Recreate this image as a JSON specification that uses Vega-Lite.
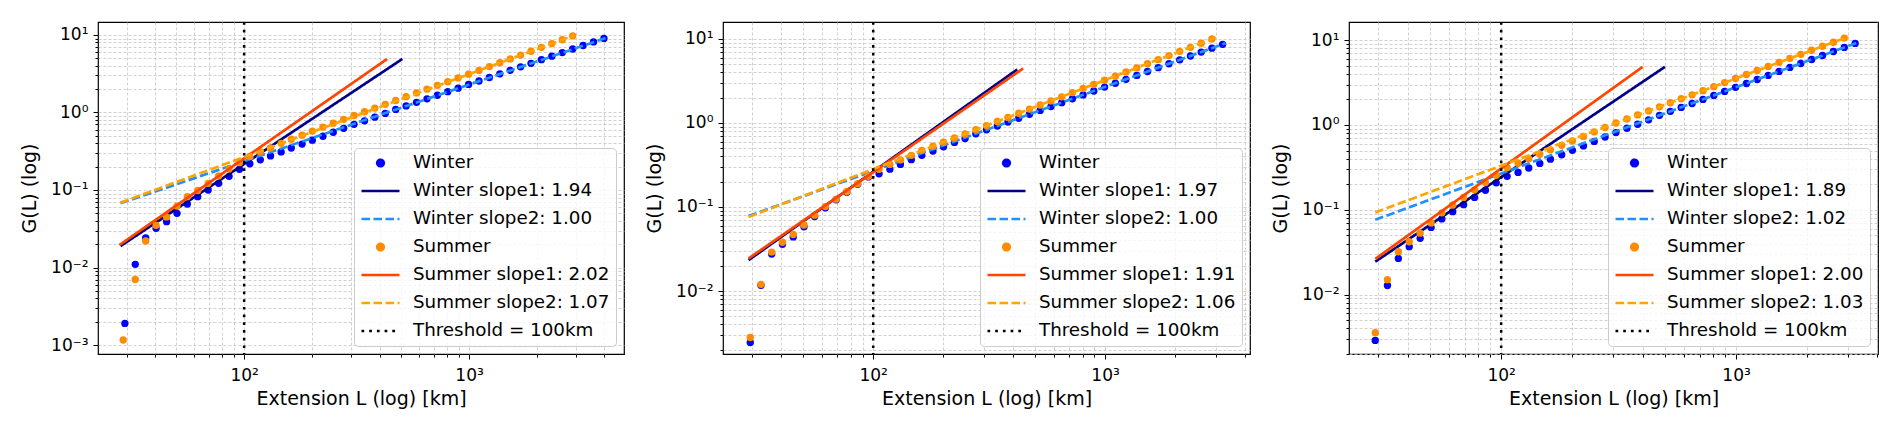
{
"$schema": "https://vega.github.io/schema/vega-lite/v6.json",
"padding": {"left": 19, "top": 20, "right": 0, "bottom": 0},
"spacing": 19,
"resolve": {"scale": {"color": "independent", "strokeDash": "independent"}, "legend": {"color": "independent", "strokeDash": "independent"}},
"config": {
  "view": {"stroke": "black", "strokeWidth": 1.2},
  "font": "DejaVu Sans",
  "axis": {"grid": true, "gridColor": "#c4c4c4", "gridDash": [3, 2], "gridWidth": 0.8, "domain": false, "tickColor": "black", "tickWidth": 1, "labelFont": "DejaVu Sans", "labelFontSize": 17, "labelColor": "black", "titleFont": "DejaVu Sans", "titleFontSize": 19, "titleFontWeight": "normal", "titleColor": "black", "labelOverlap": false, "labelFlush": false},
  "axisX": {"labelPadding": 8, "titlePadding": 6},
  "axisY": {"labelPadding": 5, "titlePadding": 11, "minExtent": 48, "maxExtent": 48},
  "legend": {"orient": "bottom-right", "offset": 8, "padding": 6, "fillColor": "rgba(255,255,255,0.8)", "strokeColor": "#cccccc", "cornerRadius": 4, "labelFont": "DejaVu Sans", "labelFontSize": 18.3, "labelColor": "black", "labelLimit": 400, "symbolSize": 1444, "clipHeight": 18, "rowPadding": 9, "labelOffset": 12, "symbolStrokeWidth": 2.7}
},
"datasets": {
"pts": [
{"p":1,"s":"Winter","L":29.5,"G":0.0019},{"p":1,"s":"Winter","L":32.8,"G":0.011},{"p":1,"s":"Winter","L":36.5,"G":0.024},{"p":1,"s":"Winter","L":40.6,"G":0.032},{"p":1,"s":"Winter","L":45.2,"G":0.039},{"p":1,"s":"Winter","L":50.3,"G":0.05},{"p":1,"s":"Winter","L":55.9,"G":0.066},{"p":1,"s":"Winter","L":62.2,"G":0.082},{"p":1,"s":"Winter","L":69.2,"G":0.1},{"p":1,"s":"Winter","L":77,"G":0.122},{"p":1,"s":"Winter","L":85.7,"G":0.15},{"p":1,"s":"Winter","L":95.3,"G":0.185},{"p":1,"s":"Winter","L":106,"G":0.218},{"p":1,"s":"Winter","L":118,"G":0.245},{"p":1,"s":"Winter","L":131,"G":0.275},{"p":1,"s":"Winter","L":146,"G":0.31},{"p":1,"s":"Winter","L":162,"G":0.348},{"p":1,"s":"Winter","L":181,"G":0.391},{"p":1,"s":"Winter","L":201,"G":0.439},{"p":1,"s":"Winter","L":224,"G":0.494},{"p":1,"s":"Winter","L":249,"G":0.556},{"p":1,"s":"Winter","L":277,"G":0.624},{"p":1,"s":"Winter","L":308,"G":0.703},{"p":1,"s":"Winter","L":343,"G":0.78},{"p":1,"s":"Winter","L":381,"G":0.871},{"p":1,"s":"Winter","L":424,"G":0.973},{"p":1,"s":"Winter","L":472,"G":1.096},{"p":1,"s":"Winter","L":525,"G":1.216},{"p":1,"s":"Winter","L":584,"G":1.352},{"p":1,"s":"Winter","L":650,"G":1.5},{"p":1,"s":"Winter","L":723,"G":1.67},{"p":1,"s":"Winter","L":804,"G":1.855},{"p":1,"s":"Winter","L":894,"G":2.06},{"p":1,"s":"Winter","L":995,"G":2.3},{"p":1,"s":"Winter","L":1107,"G":2.55},{"p":1,"s":"Winter","L":1231,"G":2.83},{"p":1,"s":"Winter","L":1370,"G":3.15},{"p":1,"s":"Winter","L":1524,"G":3.5},{"p":1,"s":"Winter","L":1695,"G":3.88},{"p":1,"s":"Winter","L":1886,"G":4.31},{"p":1,"s":"Winter","L":2098,"G":4.8},{"p":1,"s":"Winter","L":2334,"G":5.33},{"p":1,"s":"Winter","L":2597,"G":5.92},{"p":1,"s":"Winter","L":2889,"G":6.59},{"p":1,"s":"Winter","L":3214,"G":7.31},{"p":1,"s":"Winter","L":3576,"G":8.13},{"p":1,"s":"Winter","L":3978,"G":9.02},
{"p":1,"s":"Summer","L":29.0,"G":0.00116},{"p":1,"s":"Summer","L":32.8,"G":0.007},{"p":1,"s":"Summer","L":36.5,"G":0.022},{"p":1,"s":"Summer","L":40.6,"G":0.035},{"p":1,"s":"Summer","L":45.2,"G":0.045},{"p":1,"s":"Summer","L":50.3,"G":0.062},{"p":1,"s":"Summer","L":55.9,"G":0.082},{"p":1,"s":"Summer","L":62.2,"G":0.0985},{"p":1,"s":"Summer","L":69.2,"G":0.122},{"p":1,"s":"Summer","L":77,"G":0.152},{"p":1,"s":"Summer","L":85.7,"G":0.187},{"p":1,"s":"Summer","L":95.3,"G":0.225},{"p":1,"s":"Summer","L":106,"G":0.271},{"p":1,"s":"Summer","L":118,"G":0.309},{"p":1,"s":"Summer","L":131,"G":0.348},{"p":1,"s":"Summer","L":146,"G":0.4},{"p":1,"s":"Summer","L":162,"G":0.452},{"p":1,"s":"Summer","L":181,"G":0.51},{"p":1,"s":"Summer","L":201,"G":0.575},{"p":1,"s":"Summer","L":224,"G":0.648},{"p":1,"s":"Summer","L":249,"G":0.728},{"p":1,"s":"Summer","L":277,"G":0.815},{"p":1,"s":"Summer","L":308,"G":0.915},{"p":1,"s":"Summer","L":343,"G":1.022},{"p":1,"s":"Summer","L":381,"G":1.14},{"p":1,"s":"Summer","L":424,"G":1.275},{"p":1,"s":"Summer","L":472,"G":1.428},{"p":1,"s":"Summer","L":525,"G":1.6},{"p":1,"s":"Summer","L":584,"G":1.79},{"p":1,"s":"Summer","L":650,"G":2.0},{"p":1,"s":"Summer","L":723,"G":2.24},{"p":1,"s":"Summer","L":804,"G":2.5},{"p":1,"s":"Summer","L":894,"G":2.79},{"p":1,"s":"Summer","L":995,"G":3.12},{"p":1,"s":"Summer","L":1107,"G":3.49},{"p":1,"s":"Summer","L":1231,"G":3.91},{"p":1,"s":"Summer","L":1370,"G":4.39},{"p":1,"s":"Summer","L":1524,"G":4.91},{"p":1,"s":"Summer","L":1695,"G":5.5},{"p":1,"s":"Summer","L":1886,"G":6.17},{"p":1,"s":"Summer","L":2098,"G":6.92},{"p":1,"s":"Summer","L":2334,"G":7.74},{"p":1,"s":"Summer","L":2597,"G":8.67},{"p":1,"s":"Summer","L":2889,"G":9.75},
{"p":2,"s":"Winter","L":29.5,"G":0.00244},{"p":2,"s":"Winter","L":32.8,"G":0.0117},{"p":2,"s":"Winter","L":36.5,"G":0.0275},{"p":2,"s":"Winter","L":40.6,"G":0.036},{"p":2,"s":"Winter","L":45.2,"G":0.044},{"p":2,"s":"Winter","L":50.3,"G":0.058},{"p":2,"s":"Winter","L":55.9,"G":0.077},{"p":2,"s":"Winter","L":62.2,"G":0.098},{"p":2,"s":"Winter","L":69.2,"G":0.122},{"p":2,"s":"Winter","L":77,"G":0.15},{"p":2,"s":"Winter","L":85.7,"G":0.186},{"p":2,"s":"Winter","L":95.3,"G":0.228},{"p":2,"s":"Winter","L":106,"G":0.248},{"p":2,"s":"Winter","L":118,"G":0.282},{"p":2,"s":"Winter","L":131,"G":0.321},{"p":2,"s":"Winter","L":146,"G":0.366},{"p":2,"s":"Winter","L":162,"G":0.412},{"p":2,"s":"Winter","L":181,"G":0.463},{"p":2,"s":"Winter","L":201,"G":0.521},{"p":2,"s":"Winter","L":224,"G":0.587},{"p":2,"s":"Winter","L":249,"G":0.653},{"p":2,"s":"Winter","L":277,"G":0.743},{"p":2,"s":"Winter","L":308,"G":0.828},{"p":2,"s":"Winter","L":343,"G":0.92},{"p":2,"s":"Winter","L":381,"G":1.023},{"p":2,"s":"Winter","L":424,"G":1.138},{"p":2,"s":"Winter","L":472,"G":1.268},{"p":2,"s":"Winter","L":525,"G":1.409},{"p":2,"s":"Winter","L":584,"G":1.567},{"p":2,"s":"Winter","L":650,"G":1.742},{"p":2,"s":"Winter","L":723,"G":1.941},{"p":2,"s":"Winter","L":804,"G":2.158},{"p":2,"s":"Winter","L":894,"G":2.399},{"p":2,"s":"Winter","L":995,"G":2.673},{"p":2,"s":"Winter","L":1107,"G":2.972},{"p":2,"s":"Winter","L":1231,"G":3.304},{"p":2,"s":"Winter","L":1370,"G":3.681},{"p":2,"s":"Winter","L":1524,"G":4.093},{"p":2,"s":"Winter","L":1695,"G":4.55},{"p":2,"s":"Winter","L":1886,"G":5.058},{"p":2,"s":"Winter","L":2098,"G":5.636},{"p":2,"s":"Winter","L":2334,"G":6.266},{"p":2,"s":"Winter","L":2597,"G":6.966},{"p":2,"s":"Winter","L":2889,"G":7.762},{"p":2,"s":"Winter","L":3214,"G":8.63},
{"p":2,"s":"Summer","L":29.5,"G":0.0028},{"p":2,"s":"Summer","L":32.8,"G":0.012},{"p":2,"s":"Summer","L":36.5,"G":0.029},{"p":2,"s":"Summer","L":40.6,"G":0.038},{"p":2,"s":"Summer","L":45.2,"G":0.047},{"p":2,"s":"Summer","L":50.3,"G":0.061},{"p":2,"s":"Summer","L":55.9,"G":0.08},{"p":2,"s":"Summer","L":62.2,"G":0.101},{"p":2,"s":"Summer","L":69.2,"G":0.124},{"p":2,"s":"Summer","L":77,"G":0.153},{"p":2,"s":"Summer","L":85.7,"G":0.189},{"p":2,"s":"Summer","L":95.3,"G":0.232},{"p":2,"s":"Summer","L":106,"G":0.281},{"p":2,"s":"Summer","L":118,"G":0.321},{"p":2,"s":"Summer","L":131,"G":0.363},{"p":2,"s":"Summer","L":146,"G":0.412},{"p":2,"s":"Summer","L":162,"G":0.472},{"p":2,"s":"Summer","L":181,"G":0.528},{"p":2,"s":"Summer","L":201,"G":0.59},{"p":2,"s":"Summer","L":224,"G":0.662},{"p":2,"s":"Summer","L":249,"G":0.741},{"p":2,"s":"Summer","L":277,"G":0.83},{"p":2,"s":"Summer","L":308,"G":0.931},{"p":2,"s":"Summer","L":343,"G":1.04},{"p":2,"s":"Summer","L":381,"G":1.164},{"p":2,"s":"Summer","L":424,"G":1.303},{"p":2,"s":"Summer","L":472,"G":1.462},{"p":2,"s":"Summer","L":525,"G":1.634},{"p":2,"s":"Summer","L":584,"G":1.828},{"p":2,"s":"Summer","L":650,"G":2.045},{"p":2,"s":"Summer","L":723,"G":2.296},{"p":2,"s":"Summer","L":804,"G":2.57},{"p":2,"s":"Summer","L":894,"G":2.871},{"p":2,"s":"Summer","L":995,"G":3.221},{"p":2,"s":"Summer","L":1107,"G":3.606},{"p":2,"s":"Summer","L":1231,"G":4.036},{"p":2,"s":"Summer","L":1370,"G":4.519},{"p":2,"s":"Summer","L":1524,"G":5.058},{"p":2,"s":"Summer","L":1695,"G":5.662},{"p":2,"s":"Summer","L":1886,"G":6.339},{"p":2,"s":"Summer","L":2098,"G":7.112},{"p":2,"s":"Summer","L":2334,"G":7.943},{"p":2,"s":"Summer","L":2597,"G":8.892},{"p":2,"s":"Summer","L":2889,"G":9.977},
{"p":3,"s":"Winter","L":29.1,"G":0.00288},{"p":3,"s":"Winter","L":32.8,"G":0.0128},{"p":3,"s":"Winter","L":36.5,"G":0.0267},{"p":3,"s":"Winter","L":40.6,"G":0.0367},{"p":3,"s":"Winter","L":45.2,"G":0.046},{"p":3,"s":"Winter","L":50.3,"G":0.062},{"p":3,"s":"Winter","L":55.9,"G":0.078},{"p":3,"s":"Winter","L":62.2,"G":0.095},{"p":3,"s":"Winter","L":69.2,"G":0.115},{"p":3,"s":"Winter","L":77,"G":0.14},{"p":3,"s":"Winter","L":85.7,"G":0.17},{"p":3,"s":"Winter","L":95.3,"G":0.208},{"p":3,"s":"Winter","L":106,"G":0.248},{"p":3,"s":"Winter","L":118,"G":0.276},{"p":3,"s":"Winter","L":131,"G":0.311},{"p":3,"s":"Winter","L":146,"G":0.352},{"p":3,"s":"Winter","L":162,"G":0.395},{"p":3,"s":"Winter","L":181,"G":0.446},{"p":3,"s":"Winter","L":201,"G":0.502},{"p":3,"s":"Winter","L":224,"G":0.567},{"p":3,"s":"Winter","L":249,"G":0.64},{"p":3,"s":"Winter","L":277,"G":0.721},{"p":3,"s":"Winter","L":308,"G":0.813},{"p":3,"s":"Winter","L":343,"G":0.916},{"p":3,"s":"Winter","L":381,"G":1.021},{"p":3,"s":"Winter","L":424,"G":1.15},{"p":3,"s":"Winter","L":472,"G":1.3},{"p":3,"s":"Winter","L":525,"G":1.449},{"p":3,"s":"Winter","L":584,"G":1.611},{"p":3,"s":"Winter","L":650,"G":1.795},{"p":3,"s":"Winter","L":723,"G":2.004},{"p":3,"s":"Winter","L":804,"G":2.234},{"p":3,"s":"Winter","L":894,"G":2.489},{"p":3,"s":"Winter","L":995,"G":2.78},{"p":3,"s":"Winter","L":1107,"G":3.09},{"p":3,"s":"Winter","L":1231,"G":3.443},{"p":3,"s":"Winter","L":1370,"G":3.846},{"p":3,"s":"Winter","L":1524,"G":4.285},{"p":3,"s":"Winter","L":1695,"G":4.775},{"p":3,"s":"Winter","L":1886,"G":5.32},{"p":3,"s":"Winter","L":2098,"G":5.93},{"p":3,"s":"Winter","L":2334,"G":6.607},{"p":3,"s":"Winter","L":2597,"G":7.362},{"p":3,"s":"Winter","L":2889,"G":8.222},{"p":3,"s":"Winter","L":3214,"G":9.162},
{"p":3,"s":"Summer","L":29.1,"G":0.00354},{"p":3,"s":"Summer","L":32.8,"G":0.015},{"p":3,"s":"Summer","L":36.5,"G":0.032},{"p":3,"s":"Summer","L":40.6,"G":0.042},{"p":3,"s":"Summer","L":45.2,"G":0.053},{"p":3,"s":"Summer","L":50.3,"G":0.07},{"p":3,"s":"Summer","L":55.9,"G":0.092},{"p":3,"s":"Summer","L":62.2,"G":0.114},{"p":3,"s":"Summer","L":69.2,"G":0.14},{"p":3,"s":"Summer","L":77,"G":0.172},{"p":3,"s":"Summer","L":85.7,"G":0.21},{"p":3,"s":"Summer","L":95.3,"G":0.255},{"p":3,"s":"Summer","L":106,"G":0.314},{"p":3,"s":"Summer","L":118,"G":0.354},{"p":3,"s":"Summer","L":131,"G":0.4},{"p":3,"s":"Summer","L":146,"G":0.452},{"p":3,"s":"Summer","L":162,"G":0.509},{"p":3,"s":"Summer","L":181,"G":0.575},{"p":3,"s":"Summer","L":201,"G":0.649},{"p":3,"s":"Summer","L":224,"G":0.734},{"p":3,"s":"Summer","L":249,"G":0.828},{"p":3,"s":"Summer","L":277,"G":0.933},{"p":3,"s":"Summer","L":308,"G":1.057},{"p":3,"s":"Summer","L":343,"G":1.178},{"p":3,"s":"Summer","L":381,"G":1.315},{"p":3,"s":"Summer","L":424,"G":1.466},{"p":3,"s":"Summer","L":472,"G":1.637},{"p":3,"s":"Summer","L":525,"G":1.828},{"p":3,"s":"Summer","L":584,"G":2.037},{"p":3,"s":"Summer","L":650,"G":2.27},{"p":3,"s":"Summer","L":723,"G":2.541},{"p":3,"s":"Summer","L":804,"G":2.831},{"p":3,"s":"Summer","L":894,"G":3.162},{"p":3,"s":"Summer","L":995,"G":3.532},{"p":3,"s":"Summer","L":1107,"G":3.936},{"p":3,"s":"Summer","L":1231,"G":4.395},{"p":3,"s":"Summer","L":1370,"G":4.909},{"p":3,"s":"Summer","L":1524,"G":5.483},{"p":3,"s":"Summer","L":1695,"G":6.109},{"p":3,"s":"Summer","L":1886,"G":6.808},{"p":3,"s":"Summer","L":2098,"G":7.621},{"p":3,"s":"Summer","L":2334,"G":8.492},{"p":3,"s":"Summer","L":2597,"G":9.462},{"p":3,"s":"Summer","L":2889,"G":10.59}
],
"fits": [
{"p":1,"s":"Winter slope1: 1.94","L":28.2,"G":0.0189},{"p":1,"s":"Winter slope1: 1.94","L":505,"G":4.9},
{"p":1,"s":"Winter slope2: 1.00","L":28.2,"G":0.0673},{"p":1,"s":"Winter slope2: 1.00","L":4100,"G":9.24},
{"p":1,"s":"Summer slope1: 2.02","L":27.9,"G":0.0195},{"p":1,"s":"Summer slope1: 2.02","L":432,"G":4.9},
{"p":1,"s":"Summer slope2: 1.07","L":28.2,"G":0.0687},{"p":1,"s":"Summer slope2: 1.07","L":2940,"G":9.9},
{"p":2,"s":"Winter slope1: 1.97","L":29.0,"G":0.0233},{"p":2,"s":"Winter slope1: 1.97","L":418,"G":4.33},
{"p":2,"s":"Winter slope2: 1.00","L":29.0,"G":0.078},{"p":2,"s":"Winter slope2: 1.00","L":3311,"G":8.9},
{"p":2,"s":"Summer slope1: 1.91","L":29.0,"G":0.0244},{"p":2,"s":"Summer slope1: 1.91","L":443,"G":4.45},
{"p":2,"s":"Summer slope2: 1.06","L":29.0,"G":0.076},{"p":2,"s":"Summer slope2: 1.06","L":3083,"G":10.7},
{"p":3,"s":"Winter slope1: 1.89","L":29.1,"G":0.0244},{"p":3,"s":"Winter slope1: 1.89","L":498,"G":4.85},
{"p":3,"s":"Winter slope2: 1.02","L":29.1,"G":0.0762},{"p":3,"s":"Winter slope2: 1.02","L":3319,"G":9.47},
{"p":3,"s":"Summer slope1: 2.00","L":29.1,"G":0.0263},{"p":3,"s":"Summer slope1: 2.00","L":400,"G":4.85},
{"p":3,"s":"Summer slope2: 1.03","L":29.1,"G":0.093},{"p":3,"s":"Summer slope2: 1.03","L":3006,"G":11.0}
],
"thr": [{"L":100,"s":"Threshold = 100km"}]
},
"hconcat": [
{
 "width": 526, "height": 332,
 "encoding": {
  "x": {"field": "L", "type": "quantitative", "scale": {"type": "log", "domain": [22.4, 4885], "nice": false},
    "axis": {"title": "Extension L (log) [km]", "values": [30,40,50,60,70,80,90,100,200,300,400,500,600,700,800,900,1000,2000,3000,4000],
      "labelExpr": "abs(log(datum.value)/LN10 - round(log(datum.value)/LN10)) < 0.000001 ? '10' + ['⁻³','⁻²','⁻¹','⁰','¹','²','³','⁴'][round(log(datum.value)/LN10) + 3] : ''",
      "tickSize": {"condition": {"test": "abs(log(datum.value)/LN10 - round(log(datum.value)/LN10)) < 0.000001", "value": 5}, "value": 3}}},
  "color": {"field": "s", "type": "nominal",
    "scale": {"domain": ["Winter","Winter slope1: 1.94","Winter slope2: 1.00","Summer","Summer slope1: 2.02","Summer slope2: 1.07","Threshold = 100km"], "range": ["#0000ff","#00008b","#1e90ff","#ff8c00","#ff4500","#ffa500","#000000"]},
    "legend": {"title": null, "orient": "bottom-right", "encode": {"symbols": {"update": {
      "fill": {"signal": "datum.value=='Winter' ? '#0000ff' : datum.value=='Summer' ? '#ff8c00' : 'transparent'"},
      "stroke": {"signal": "indexof(datum.value,'Winter slope1')==0 ? '#00008b' : indexof(datum.value,'Winter slope2')==0 ? '#1e90ff' : indexof(datum.value,'Summer slope1')==0 ? '#ff4500' : indexof(datum.value,'Summer slope2')==0 ? '#ffa500' : indexof(datum.value,'Threshold')==0 ? '#000000' : 'transparent'"},
      "shape": {"signal": "datum.value=='Winter' || datum.value=='Summer' ? 'circle' : 'stroke'"},
      "size": {"signal": "datum.value=='Winter' || datum.value=='Summer' ? 42 : 1444"},
      "strokeDash": {"signal": "indexof(datum.value,'slope2')>=0 ? [8.5,3.5] : indexof(datum.value,'Threshold')==0 ? [2.7,5] : [1,0]"},
      "strokeWidth": {"value": 2.7}, "opacity": {"value": 1}}}}}},
  "strokeDash": {"field": "s", "type": "nominal", "legend": null,
    "scale": {"domain": ["Winter","Winter slope1: 1.94","Winter slope2: 1.00","Summer","Summer slope1: 2.02","Summer slope2: 1.07","Threshold = 100km"], "range": [[1,0],[1,0],[8.5,3.5],[1,0],[1,0],[8.5,3.5],[2.7,5]]}}
 },
 "layer": [
  {"data": {"name": "pts"}, "transform": [{"filter": "datum.p==1 && datum.s=='Winter'"}], "mark": {"type": "point", "filled": true, "size": 54, "opacity": 1},
   "encoding": {"y": {"field": "G", "type": "quantitative", "scale": {"type": "log", "domain": [0.000766, 14.7], "nice": false},
     "axis": {"title": "G(L) (log)", "values": [0.001,0.002,0.003,0.004,0.005,0.006,0.007,0.008,0.009,0.01,0.02,0.03,0.04,0.05,0.06,0.07,0.08,0.09,0.1,0.2,0.3,0.4,0.5,0.6,0.7,0.8,0.9,1,2,3,4,5,6,7,8,9,10],
       "labelExpr": "abs(log(datum.value)/LN10 - round(log(datum.value)/LN10)) < 0.000001 ? '10' + ['⁻³','⁻²','⁻¹','⁰','¹','²','³','⁴'][round(log(datum.value)/LN10) + 3] : ''",
       "tickSize": {"condition": {"test": "abs(log(datum.value)/LN10 - round(log(datum.value)/LN10)) < 0.000001", "value": 5}, "value": 3}}}}},
  {"data": {"name": "fits"}, "transform": [{"filter": "datum.p==1 && indexof(datum.s,'Winter')==0"}], "mark": {"type": "line", "strokeWidth": 2.7},
   "encoding": {"y": {"field": "G", "type": "quantitative", "scale": {"type": "log", "domain": [0.000766, 14.7], "nice": false}}}},
  {"data": {"name": "pts"}, "transform": [{"filter": "datum.p==1 && datum.s=='Summer'"}], "mark": {"type": "point", "filled": true, "size": 54, "opacity": 1},
   "encoding": {"y": {"field": "G", "type": "quantitative", "scale": {"type": "log", "domain": [0.000766, 14.7], "nice": false}}}},
  {"data": {"name": "fits"}, "transform": [{"filter": "datum.p==1 && indexof(datum.s,'Summer')==0"}], "mark": {"type": "line", "strokeWidth": 2.7},
   "encoding": {"y": {"field": "G", "type": "quantitative", "scale": {"type": "log", "domain": [0.000766, 14.7], "nice": false}}}},
  {"data": {"name": "thr"}, "mark": {"type": "rule", "strokeWidth": 2.5}, "encoding": {}}
 ]
},
{
 "width": 527, "height": 332,
 "encoding": {
  "x": {"field": "L", "type": "quantitative", "scale": {"type": "log", "domain": [22.5, 4217], "nice": false},
    "axis": {"title": "Extension L (log) [km]", "values": [30,40,50,60,70,80,90,100,200,300,400,500,600,700,800,900,1000,2000,3000,4000],
      "labelExpr": "abs(log(datum.value)/LN10 - round(log(datum.value)/LN10)) < 0.000001 ? '10' + ['⁻³','⁻²','⁻¹','⁰','¹','²','³','⁴'][round(log(datum.value)/LN10) + 3] : ''",
      "tickSize": {"condition": {"test": "abs(log(datum.value)/LN10 - round(log(datum.value)/LN10)) < 0.000001", "value": 5}, "value": 3}}},
  "color": {"field": "s", "type": "nominal",
    "scale": {"domain": ["Winter","Winter slope1: 1.97","Winter slope2: 1.00","Summer","Summer slope1: 1.91","Summer slope2: 1.06","Threshold = 100km"], "range": ["#0000ff","#00008b","#1e90ff","#ff8c00","#ff4500","#ffa500","#000000"]},
    "legend": {"title": null, "orient": "bottom-right", "encode": {"symbols": {"update": {
      "fill": {"signal": "datum.value=='Winter' ? '#0000ff' : datum.value=='Summer' ? '#ff8c00' : 'transparent'"},
      "stroke": {"signal": "indexof(datum.value,'Winter slope1')==0 ? '#00008b' : indexof(datum.value,'Winter slope2')==0 ? '#1e90ff' : indexof(datum.value,'Summer slope1')==0 ? '#ff4500' : indexof(datum.value,'Summer slope2')==0 ? '#ffa500' : indexof(datum.value,'Threshold')==0 ? '#000000' : 'transparent'"},
      "shape": {"signal": "datum.value=='Winter' || datum.value=='Summer' ? 'circle' : 'stroke'"},
      "size": {"signal": "datum.value=='Winter' || datum.value=='Summer' ? 42 : 1444"},
      "strokeDash": {"signal": "indexof(datum.value,'slope2')>=0 ? [8.5,3.5] : indexof(datum.value,'Threshold')==0 ? [2.7,5] : [1,0]"},
      "strokeWidth": {"value": 2.7}, "opacity": {"value": 1}}}}}},
  "strokeDash": {"field": "s", "type": "nominal", "legend": null,
    "scale": {"domain": ["Winter","Winter slope1: 1.97","Winter slope2: 1.00","Summer","Summer slope1: 1.91","Summer slope2: 1.06","Threshold = 100km"], "range": [[1,0],[1,0],[8.5,3.5],[1,0],[1,0],[8.5,3.5],[2.7,5]]}}
 },
 "layer": [
  {"data": {"name": "pts"}, "transform": [{"filter": "datum.p==2 && datum.s=='Winter'"}], "mark": {"type": "point", "filled": true, "size": 54, "opacity": 1},
   "encoding": {"y": {"field": "G", "type": "quantitative", "scale": {"type": "log", "domain": [0.00178, 15.9], "nice": false},
     "axis": {"title": "G(L) (log)", "values": [0.002,0.003,0.004,0.005,0.006,0.007,0.008,0.009,0.01,0.02,0.03,0.04,0.05,0.06,0.07,0.08,0.09,0.1,0.2,0.3,0.4,0.5,0.6,0.7,0.8,0.9,1,2,3,4,5,6,7,8,9,10],
       "labelExpr": "abs(log(datum.value)/LN10 - round(log(datum.value)/LN10)) < 0.000001 ? '10' + ['⁻³','⁻²','⁻¹','⁰','¹','²','³','⁴'][round(log(datum.value)/LN10) + 3] : ''",
       "tickSize": {"condition": {"test": "abs(log(datum.value)/LN10 - round(log(datum.value)/LN10)) < 0.000001", "value": 5}, "value": 3}}}}},
  {"data": {"name": "fits"}, "transform": [{"filter": "datum.p==2 && indexof(datum.s,'Winter')==0"}], "mark": {"type": "line", "strokeWidth": 2.7},
   "encoding": {"y": {"field": "G", "type": "quantitative", "scale": {"type": "log", "domain": [0.00178, 15.9], "nice": false}}}},
  {"data": {"name": "pts"}, "transform": [{"filter": "datum.p==2 && datum.s=='Summer'"}], "mark": {"type": "point", "filled": true, "size": 54, "opacity": 1},
   "encoding": {"y": {"field": "G", "type": "quantitative", "scale": {"type": "log", "domain": [0.00178, 15.9], "nice": false}}}},
  {"data": {"name": "fits"}, "transform": [{"filter": "datum.p==2 && indexof(datum.s,'Summer')==0"}], "mark": {"type": "line", "strokeWidth": 2.7},
   "encoding": {"y": {"field": "G", "type": "quantitative", "scale": {"type": "log", "domain": [0.00178, 15.9], "nice": false}}}},
  {"data": {"name": "thr"}, "mark": {"type": "rule", "strokeWidth": 2.5}, "encoding": {}}
 ]
},
{
 "width": 529, "height": 332,
 "encoding": {
  "x": {"field": "L", "type": "quantitative", "scale": {"type": "log", "domain": [22.5, 4020], "nice": false},
    "axis": {"title": "Extension L (log) [km]", "values": [30,40,50,60,70,80,90,100,200,300,400,500,600,700,800,900,1000,2000,3000,4000],
      "labelExpr": "abs(log(datum.value)/LN10 - round(log(datum.value)/LN10)) < 0.000001 ? '10' + ['⁻³','⁻²','⁻¹','⁰','¹','²','³','⁴'][round(log(datum.value)/LN10) + 3] : ''",
      "tickSize": {"condition": {"test": "abs(log(datum.value)/LN10 - round(log(datum.value)/LN10)) < 0.000001", "value": 5}, "value": 3}}},
  "color": {"field": "s", "type": "nominal",
    "scale": {"domain": ["Winter","Winter slope1: 1.89","Winter slope2: 1.02","Summer","Summer slope1: 2.00","Summer slope2: 1.03","Threshold = 100km"], "range": ["#0000ff","#00008b","#1e90ff","#ff8c00","#ff4500","#ffa500","#000000"]},
    "legend": {"title": null, "orient": "bottom-right", "encode": {"symbols": {"update": {
      "fill": {"signal": "datum.value=='Winter' ? '#0000ff' : datum.value=='Summer' ? '#ff8c00' : 'transparent'"},
      "stroke": {"signal": "indexof(datum.value,'Winter slope1')==0 ? '#00008b' : indexof(datum.value,'Winter slope2')==0 ? '#1e90ff' : indexof(datum.value,'Summer slope1')==0 ? '#ff4500' : indexof(datum.value,'Summer slope2')==0 ? '#ffa500' : indexof(datum.value,'Threshold')==0 ? '#000000' : 'transparent'"},
      "shape": {"signal": "datum.value=='Winter' || datum.value=='Summer' ? 'circle' : 'stroke'"},
      "size": {"signal": "datum.value=='Winter' || datum.value=='Summer' ? 42 : 1444"},
      "strokeDash": {"signal": "indexof(datum.value,'slope2')>=0 ? [8.5,3.5] : indexof(datum.value,'Threshold')==0 ? [2.7,5] : [1,0]"},
      "strokeWidth": {"value": 2.7}, "opacity": {"value": 1}}}}}},
  "strokeDash": {"field": "s", "type": "nominal", "legend": null,
    "scale": {"domain": ["Winter","Winter slope1: 1.89","Winter slope2: 1.02","Summer","Summer slope1: 2.00","Summer slope2: 1.03","Threshold = 100km"], "range": [[1,0],[1,0],[8.5,3.5],[1,0],[1,0],[8.5,3.5],[2.7,5]]}}
 },
 "layer": [
  {"data": {"name": "pts"}, "transform": [{"filter": "datum.p==3 && datum.s=='Winter'"}], "mark": {"type": "point", "filled": true, "size": 54, "opacity": 1},
   "encoding": {"y": {"field": "G", "type": "quantitative", "scale": {"type": "log", "domain": [0.00199, 16.4], "nice": false},
     "axis": {"title": "G(L) (log)", "values": [0.002,0.003,0.004,0.005,0.006,0.007,0.008,0.009,0.01,0.02,0.03,0.04,0.05,0.06,0.07,0.08,0.09,0.1,0.2,0.3,0.4,0.5,0.6,0.7,0.8,0.9,1,2,3,4,5,6,7,8,9,10],
       "labelExpr": "abs(log(datum.value)/LN10 - round(log(datum.value)/LN10)) < 0.000001 ? '10' + ['⁻³','⁻²','⁻¹','⁰','¹','²','³','⁴'][round(log(datum.value)/LN10) + 3] : ''",
       "tickSize": {"condition": {"test": "abs(log(datum.value)/LN10 - round(log(datum.value)/LN10)) < 0.000001", "value": 5}, "value": 3}}}}},
  {"data": {"name": "fits"}, "transform": [{"filter": "datum.p==3 && indexof(datum.s,'Winter')==0"}], "mark": {"type": "line", "strokeWidth": 2.7},
   "encoding": {"y": {"field": "G", "type": "quantitative", "scale": {"type": "log", "domain": [0.00199, 16.4], "nice": false}}}},
  {"data": {"name": "pts"}, "transform": [{"filter": "datum.p==3 && datum.s=='Summer'"}], "mark": {"type": "point", "filled": true, "size": 54, "opacity": 1},
   "encoding": {"y": {"field": "G", "type": "quantitative", "scale": {"type": "log", "domain": [0.00199, 16.4], "nice": false}}}},
  {"data": {"name": "fits"}, "transform": [{"filter": "datum.p==3 && indexof(datum.s,'Summer')==0"}], "mark": {"type": "line", "strokeWidth": 2.7},
   "encoding": {"y": {"field": "G", "type": "quantitative", "scale": {"type": "log", "domain": [0.00199, 16.4], "nice": false}}}},
  {"data": {"name": "thr"}, "mark": {"type": "rule", "strokeWidth": 2.5}, "encoding": {}}
 ]
}
]
}
